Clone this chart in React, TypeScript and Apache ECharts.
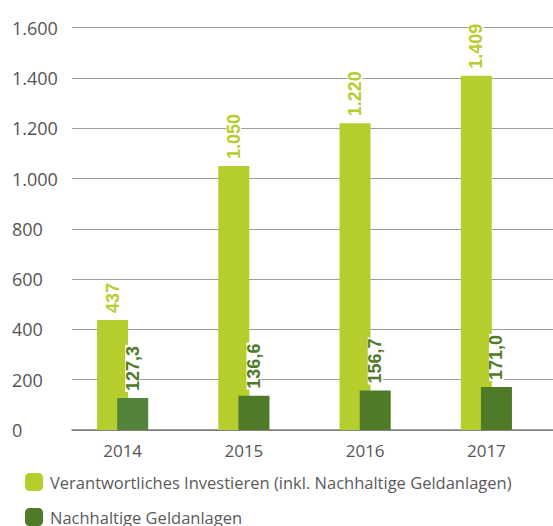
import React, { useEffect, useRef } from "react";
import * as echarts from "echarts";

const categories = ["2014", "2015", "2016", "2017"];
const responsibleInvesting = [437, 1050, 1220, 1409];
const sustainableInvestments = [127.3, 136.6, 156.7, 171.0];
const seriesNames = [
  "Verantwortliches Investieren (inkl. Nachhaltige Geldanlagen)",
  "Nachhaltige Geldanlagen",
];
const yMin = 0;
const yMax = 1600;
const yInterval = 200;

const LIGHT = "#b6cd2e";
const DARK = "#4f7a28";
const DARK_2014 = "#53833a";

const deThousands = (v: number) =>
  String(Math.round(v)).replace(/\B(?=(\d{3})+(?!\d))/g, ".");
const deDecimal = (v: number) => v.toFixed(1).replace(".", ",");

export default function App() {
  const ref = useRef<HTMLDivElement>(null);
  useEffect(() => {
    if (!ref.current) return;
    const chart = echarts.init(ref.current, undefined, { renderer: "svg" });
    const gridTop = 27.7;
    const gridBottom = 96;
    const labelBase = {
      show: true,
      position: "top",
      rotate: 90,
      align: "left",
      verticalAlign: "middle",
      distance: 6,
      fontFamily: "Liberation Sans",
      fontWeight: "bold",
      fontSize: 18,
      lineHeight: 15,
      backgroundColor: "#ffffff",
      padding: [0, 1],
    };
    chart.setOption({
      animation: false,
      backgroundColor: "#ffffff",
      grid: [
        { left: 72, right: 0, top: gridTop, bottom: gridBottom },
        { left: 62, right: 6, top: gridTop, bottom: gridBottom },
      ],
      xAxis: [
        {
          gridIndex: 0,
          type: "value",
          min: 0,
          max: 1,
          axisLine: { show: true, onZero: false, lineStyle: { color: "#7a7a7a", width: 1.5 } },
          axisTick: { show: false },
          axisLabel: { show: false },
          splitLine: { show: false },
        },
        {
          gridIndex: 1,
          type: "category",
          data: categories,
          axisLine: { show: false },
          axisTick: { show: false },
          axisLabel: {
            margin: 12,
            fontFamily: "Open Sans",
            fontSize: 17,
            color: "#555555",
          },
        },
      ],
      yAxis: [
        {
          gridIndex: 0,
          type: "value",
          min: yMin,
          max: yMax,
          interval: yInterval,
          axisLine: { show: false },
          axisTick: { show: false },
          axisLabel: {
            align: "left",
            margin: 60,
            fontFamily: "Open Sans",
            fontSize: 18,
            color: "#555555",
            formatter: (v: number) => deThousands(v),
          },
          splitLine: { show: true, lineStyle: { color: "#9e9e9e", width: 1 } },
        },
        {
          gridIndex: 1,
          type: "value",
          min: yMin,
          max: yMax,
          interval: yInterval,
          show: false,
          splitLine: { show: false },
        },
      ],
      legend: {
        orient: "vertical",
        left: 25,
        top: 473,
        height: 80,
        padding: 0,
        itemWidth: 18,
        itemHeight: 18,
        itemGap: 17,
        icon: "roundRect",
        textStyle: {
          fontFamily: "Open Sans",
          fontSize: 16.5,
          color: "#5a5a5a",
          padding: [0, 0, 0, 2],
        },
        data: seriesNames,
      },
      series: [
        {
          name: seriesNames[0],
          type: "bar",
          xAxisIndex: 1,
          yAxisIndex: 1,
          barWidth: 31,
          barGap: "-35%",
          itemStyle: { color: LIGHT },
          data: responsibleInvesting,
          label: {
            ...labelBase,
            color: LIGHT,
            formatter: (p: any) => deThousands(p.value),
          },
        },
        {
          name: seriesNames[1],
          type: "bar",
          xAxisIndex: 1,
          yAxisIndex: 1,
          barWidth: 31,
          barGap: "-35%",
          itemStyle: { color: DARK },
          data: sustainableInvestments.map((v, i) =>
            i === 0 ? { value: v, itemStyle: { color: DARK_2014 } } : v
          ),
          label: {
            ...labelBase,
            color: DARK,
            formatter: (p: any) => deDecimal(p.value),
          },
        },
      ],
    });
    return () => chart.dispose();
  }, []);
  return (
    <div
      ref={ref}
      style={{ position: "absolute", left: 0, top: 0, width: 553, height: 526 }}
    />
  );
}
